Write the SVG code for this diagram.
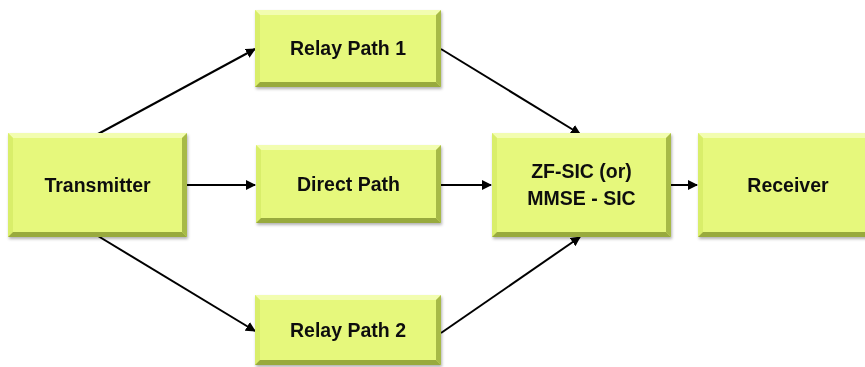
<svg xmlns="http://www.w3.org/2000/svg" width="865" height="367" viewBox="0 0 865 367">
<style>
.face{fill:#E6F87C}
.bt{fill:#F2FDB0}
.bl{fill:#D9EE6A}
.br{fill:#A7BA47}
.bb{fill:#98AA3C}
.lbl{font-family:"Liberation Sans",Arial,sans-serif;font-weight:bold;font-size:19.5px;fill:#111;text-anchor:middle}
.conn{stroke:#000;stroke-width:2;fill:none;marker-end:url(#ah)}
</style>
<defs>
<marker id="ah" viewBox="0 0 10 10" refX="9" refY="5" markerWidth="5" markerHeight="5" orient="auto" markerUnits="strokeWidth">
<path d="M0,0 L10,5 L0,10 z" fill="#000"/>
</marker>
<filter id="sh" x="-10%" y="-10%" width="125%" height="130%">
<feDropShadow dx="1" dy="2" stdDeviation="1.5" flood-color="#000" flood-opacity="0.3"/>
</filter>
</defs>

<g id="connectors">
<line class="conn" x1="98" y1="134" x2="255" y2="49"/>
<line class="conn" x1="98" y1="236" x2="255" y2="331"/>
<line class="conn" x1="187" y1="185" x2="255" y2="185"/>
<line class="conn" x1="441" y1="49" x2="580" y2="134"/>
<line class="conn" x1="441" y1="333" x2="580" y2="237"/>
<line class="conn" x1="441" y1="185" x2="491" y2="185"/>
<line class="conn" x1="671" y1="185" x2="697" y2="185"/>
</g>

<g id="transmitter" filter="url(#sh)">
<rect class="face" x="8" y="133" width="179" height="104"/>
<polygon class="bt" points="8,133 187,133 182,138 13,138"/>
<polygon class="bl" points="8,133 13,138 13,232 8,237"/>
<polygon class="br" points="187,133 187,237 182,232 182,138"/>
<polygon class="bb" points="8,237 187,237 182,232 13,232"/>
<text class="lbl" x="97.5" y="192">Transmitter</text>
</g>

<g id="relay1" filter="url(#sh)">
<rect class="face" x="255" y="10" width="186" height="77"/>
<polygon class="bt" points="255,10 441,10 436,15 260,15"/>
<polygon class="bl" points="255,10 260,15 260,82 255,87"/>
<polygon class="br" points="441,10 441,87 436,82 436,15"/>
<polygon class="bb" points="255,87 441,87 436,82 260,82"/>
<text class="lbl" x="348" y="55">Relay Path 1</text>
</g>

<g id="direct" filter="url(#sh)">
<rect class="face" x="256" y="145" width="185" height="78"/>
<polygon class="bt" points="256,145 441,145 436,150 261,150"/>
<polygon class="bl" points="256,145 261,150 261,218 256,223"/>
<polygon class="br" points="441,145 441,223 436,218 436,150"/>
<polygon class="bb" points="256,223 441,223 436,218 261,218"/>
<text class="lbl" x="348.5" y="191">Direct Path</text>
</g>

<g id="relay2" filter="url(#sh)">
<rect class="face" x="255" y="295" width="186" height="70"/>
<polygon class="bt" points="255,295 441,295 436,300 260,300"/>
<polygon class="bl" points="255,295 260,300 260,360 255,365"/>
<polygon class="br" points="441,295 441,365 436,360 436,300"/>
<polygon class="bb" points="255,365 441,365 436,360 260,360"/>
<text class="lbl" x="348" y="337">Relay Path 2</text>
</g>

<g id="zfsic" filter="url(#sh)">
<rect class="face" x="492" y="133" width="179" height="104"/>
<polygon class="bt" points="492,133 671,133 666,138 497,138"/>
<polygon class="bl" points="492,133 497,138 497,232 492,237"/>
<polygon class="br" points="671,133 671,237 666,232 666,138"/>
<polygon class="bb" points="492,237 671,237 666,232 497,232"/>
<text class="lbl" x="581.5" y="178">ZF-SIC (or)</text>
<text class="lbl" x="581.5" y="205">MMSE - SIC</text>
</g>

<g id="receiver" filter="url(#sh)">
<rect class="face" x="698" y="133" width="172" height="104"/>
<polygon class="bt" points="698,133 870,133 865,138 703,138"/>
<polygon class="bl" points="698,133 703,138 703,232 698,237"/>
<polygon class="bb" points="698,237 870,237 865,232 703,232"/>
<text class="lbl" x="788" y="192">Receiver</text>
</g>
</svg>
